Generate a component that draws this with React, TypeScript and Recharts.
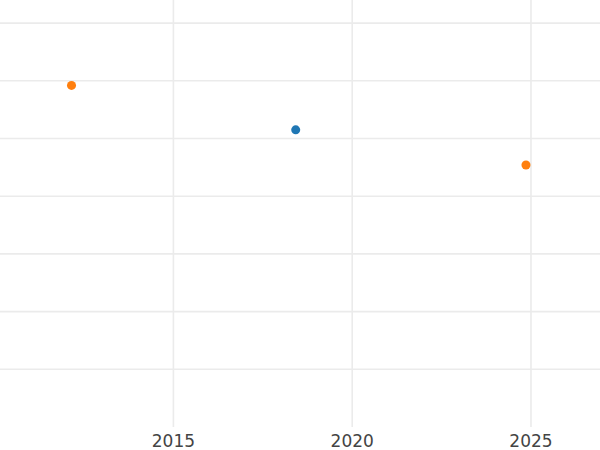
import { ScatterChart, Scatter, XAxis, YAxis, ZAxis, CartesianGrid } from "recharts"

// years run along x; y has no labels in the source, so it is on a plain 0-7.4 scale
const yearTicks = [2015, 2020, 2025]
const yearDomain = [2010.15, 2026.93]
const levelTicks = [1, 2, 3, 4, 5, 6, 7]
const levelDomain = [0, 7.4]

const orangeYears = [2012.15, 2024.86]
const orangeLevels = [5.92, 4.54]
const blueYears = [2018.42]
const blueLevels = [5.15]

const orangeData = orangeYears.map((x, i) => ({ x, y: orangeLevels[i] }))
const blueData = blueYears.map((x, i) => ({ x, y: blueLevels[i] }))

// only the tick lines, no frame round the plot
const vLines = ({ offset }: any) =>
  yearTicks.map((t) => offset.left + ((t - yearDomain[0]) / (yearDomain[1] - yearDomain[0])) * offset.width)
const hLines = ({ offset }: any) =>
  levelTicks.map((t) => offset.top + (1 - (t - levelDomain[0]) / (levelDomain[1] - levelDomain[0])) * offset.height)

export default function App() {
  return (
    <div style={{ position: "absolute", left: 0, top: 0, background: "#fff" }}>
      <ScatterChart width={600} height={450} margin={{ top: 0, right: 0, bottom: 0, left: 0 }}>
        <CartesianGrid
          stroke="#ebebeb"
          strokeWidth={1.6}
          verticalCoordinatesGenerator={vLines}
          horizontalCoordinatesGenerator={hLines}
        />
        <XAxis
          type="number"
          dataKey="x"
          domain={yearDomain}
          ticks={yearTicks}
          allowDataOverflow
          axisLine={false}
          tickLine={false}
          height={23}
          tickMargin={2}
          tick={{ fontSize: 17, fill: "#444", fontFamily: "DejaVu Sans" }}
        />
        <YAxis type="number" dataKey="y" domain={levelDomain} ticks={levelTicks} hide />
        <ZAxis range={[64, 64]} />
        <Scatter data={blueData} fill="#1f77b4" isAnimationActive={false} />
        <Scatter data={orangeData} fill="#ff7f0e" isAnimationActive={false} />
      </ScatterChart>
    </div>
  )
}
